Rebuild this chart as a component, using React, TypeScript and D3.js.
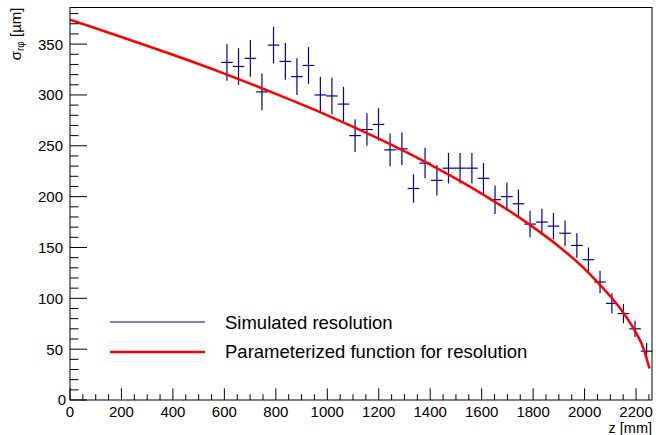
import React from "react";
import * as d3 from "d3";

const zValues = [610, 655, 701, 746, 791, 837, 882, 927, 973, 1018, 1063, 1108, 1154, 1199, 1244, 1290, 1335, 1380, 1426, 1471, 1516, 1562, 1607, 1652, 1698, 1743, 1788, 1834, 1879, 1924, 1970, 2015, 2060, 2106, 2151, 2196, 2241];
const sigmaValues = [332, 328, 336, 303, 349, 333, 318, 329, 300, 299, 291, 260, 266, 271, 246, 247, 208, 233, 216, 228, 228, 228, 218, 197, 200, 193, 173, 175, 171, 164, 152, 138, 116, 95, 85, 70, 48];
const sigmaErrors = [18, 18, 18, 18, 18, 18, 18, 18, 18, 18, 17, 16, 16, 16, 16, 16, 14, 15, 15, 15, 15, 15, 15, 14, 14, 14, 13, 13, 13, 12.5, 12, 12, 11, 10, 9.5, 8, 8];
const zHalfWidth = 22.6;

const fitZ = [0, 200, 400, 600, 800, 1000, 1200, 1400, 1600, 1800, 1900, 2000, 2050, 2100, 2150, 2200, 2230, 2252];
const fitSigma = [374, 357, 339.5, 321, 301, 280, 257, 231.5, 203, 170, 151, 129, 116, 102, 86, 66, 50, 31];

const xTicks = [0, 200, 400, 600, 800, 1000, 1200, 1400, 1600, 1800, 2000, 2200];
const yTicks = [0, 50, 100, 150, 200, 250, 300, 350];

const W = 656, H = 435;
const L = 70, R = 652, T = 7.5, B = 400;
const FONT = "'Liberation Sans', Arial, Helvetica, sans-serif";
const BLUE = "#000099";

export default function App() {
  const x = d3.scaleLinear().domain([0, 2262]).range([L, R]);
  const y = d3.scaleLinear().domain([0, 386]).range([B, T]);

  const xMinor = d3.range(0, 2262, 50);
  const yMinor = d3.range(0, 387, 10);

  const line = d3
    .line<number>()
    .x((_, i) => x(fitZ[i]))
    .y((d) => y(d))
    .curve(d3.curveMonotoneX);

  return (
    <svg
      width={W}
      height={H}
      style={{ position: "fixed", left: 0, top: 0, background: "#fff" }}
      fontFamily={FONT}
    >
      <rect x={0} y={0} width={W} height={H} fill="#fff" />
      <defs>
        <clipPath id="frame">
          <rect x={L} y={T} width={R - L} height={B - T} />
        </clipPath>
      </defs>

      {/* data points */}
      <g stroke={BLUE} strokeWidth={1.2}>
        {zValues.map((z, i) => (
          <g key={i}>
            <line x1={x(z - zHalfWidth)} x2={x(z + zHalfWidth)} y1={y(sigmaValues[i])} y2={y(sigmaValues[i])} />
            <line x1={x(z)} x2={x(z)} y1={y(sigmaValues[i] - sigmaErrors[i])} y2={y(sigmaValues[i] + sigmaErrors[i])} />
          </g>
        ))}
      </g>

      {/* fit curve */}
      <path d={line(fitSigma) || ""} fill="none" stroke="#ff0000" strokeWidth={2.5} clipPath="url(#frame)" />

      {/* frame */}
      <rect x={L} y={T} width={R - L} height={B - T} fill="none" stroke="#000" strokeWidth={1} />

      {/* ticks */}
      <g stroke="#000" strokeWidth={1}>
        {xMinor.map((v) => (
          <line key={"xm" + v} x1={x(v)} x2={x(v)} y1={B} y2={B - (v % 200 === 0 ? 11.7 : 5.8)} />
        ))}
        {yMinor.map((v) => (
          <line key={"ym" + v} x1={L} x2={L + (v % 50 === 0 ? 17 : 8.5)} y1={y(v)} y2={y(v)} />
        ))}
      </g>

      {/* tick labels */}
      <g fontSize={15} fill="#000">
        {xTicks.map((v) => (
          <text key={"xl" + v} x={x(v)} y={416.5} textAnchor="middle">
            {v}
          </text>
        ))}
        {yTicks.map((v) => (
          <text key={"yl" + v} x={v === 0 ? 66 : 63} y={v === 0 ? 405 : y(v) + 5.5} textAnchor="end">
            {v}
          </text>
        ))}
      </g>

      {/* axis titles */}
      <text x={R} y={432.5} textAnchor="end" fontSize={14.5}>
        z [mm]
      </text>
      <text transform={`translate(20.5, ${T}) rotate(-90)`} textAnchor="end" fontSize={15}>
        σ
        <tspan fontSize={10} dy={3}>rφ</tspan>
        <tspan dy={-3}> [µm]</tspan>
      </text>

      {/* legend */}
      <rect x={110.7} y={341.7} width={94.3} height={20} fill="none" stroke="#eeeeee" strokeWidth={1} />
      <line x1={110} x2={205} y1={322} y2={322} stroke={BLUE} strokeWidth={1.2} />
      <line x1={110} x2={205} y1={352} y2={352} stroke="#ff0000" strokeWidth={2.5} />
      <g fontSize={18.5} fill="#000">
        <text x={225} y={328.7}>Simulated resolution</text>
        <text x={225} y={358.2}>Parameterized function for resolution</text>
      </g>
    </svg>
  );
}
